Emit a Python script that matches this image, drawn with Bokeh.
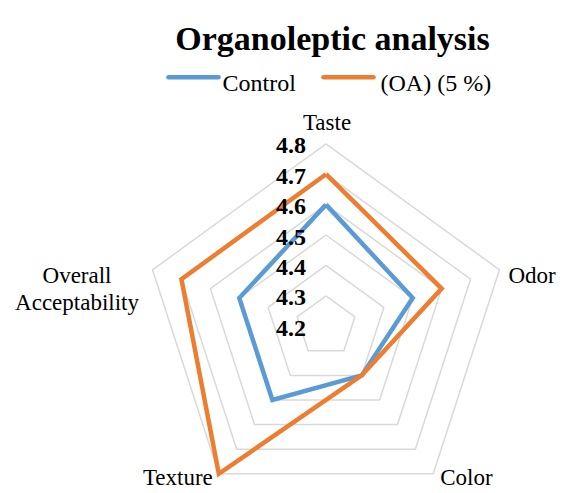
import math
from bokeh.plotting import figure
from bokeh.models import Range1d
from bokeh.core.properties import value
from bokeh.embed import file_html
from bokeh.resources import INLINE

# ---- data ----
categories = ["Taste", "Odor", "Color", "Texture", "Overall Acceptability"]
control = [4.6, 4.5, 4.4, 4.5, 4.5]
oa_5 = [4.7, 4.6, 4.4, 4.8, 4.7]
series_names = ["Control", "(OA) (5 %)"]
ticks = [4.2, 4.3, 4.4, 4.5, 4.6, 4.7, 4.8]
tick_labels = ["4.2", "4.3", "4.4", "4.5", "4.6", "4.7", "4.8"]
title = "Organoleptic analysis"

# ---- layout / style ----
W, H = 562, 493
CX, CY = 325.5, 325.7          # plot centre (screen px, y down)
RMIN, RMAX = 4.2, 4.8
RADIUS = 182.4                  # px for RMAX
FONT = value("Liberation Serif")
BLUE = "#5B9BD5"
ORANGE = "#ED7D31"
GRID = "#D9D9D9"

n = len(categories)
angles = [math.radians(90 - 360.0 * k / n) for k in range(n)]


def to_xy(val, ang):
    r = (val - RMIN) / (RMAX - RMIN) * RADIUS
    return CX + r * math.cos(ang), CY - r * math.sin(ang)


p = figure(width=W, height=H, x_range=Range1d(0, W), y_range=Range1d(H, 0),
           output_backend="svg", toolbar_location=None, min_border=0,
           x_axis_location=None, y_axis_location=None)
p.grid.visible = False
p.outline_line_color = None
p.background_fill_color = "white"

# grid pentagons (skip centre value)
gx, gy = [], []
for t in ticks[1:]:
    pts = [to_xy(t, a) for a in angles]
    pts.append(pts[0])
    gx.append([q[0] for q in pts])
    gy.append([q[1] for q in pts])
p.multi_line(gx, gy, line_color=GRID, line_width=1.5)

# series
for vals, col in [(control, BLUE), (oa_5, ORANGE)]:
    pts = [to_xy(v, a) for v, a in zip(vals, angles)]
    pts.append(pts[0])
    p.line([q[0] for q in pts], [q[1] for q in pts], line_color=col,
           line_width=4.5, line_join="miter")

# radial tick labels
tx, ty = [], []
for t in ticks:
    x, y = to_xy(t, angles[0])
    tx.append(x - 20)
    ty.append(y + 2)
p.text(tx, ty, text=tick_labels, text_font=FONT, text_font_size="24px",
       text_font_style="bold", text_align="right", text_baseline="middle",
       text_color="#000000")

# category labels: (dx, dy, align, baseline) offsets from outer vertex
label_style = [
    (1, -21.6, "center", "alphabetic"),
    (9, 5.6, "left", "alphabetic"),
    (7, 4.2, "left", "middle"),
    (-6, 4.2, "right", "middle"),
]
for k in range(4):
    vx, vy = to_xy(RMAX, angles[k])
    dx, dy, al, bl = label_style[k]
    p.text([vx + dx], [vy + dy], text=[categories[k]], text_font=FONT,
           text_font_size="23px", text_align=al, text_baseline=bl,
           text_color="#000000")
# two-line label for the last category
vx, vy = to_xy(RMAX, angles[4])
words = categories[4].split(" ")
p.text([vx - 75.5, vx - 75.5], [vy + 5.6, vy + 32.6], text=words, text_font=FONT,
       text_font_size="23px", text_align="center", text_baseline="alphabetic",
       text_color="#000000")

# title
p.text([332], [38], text=[title], text_font=FONT, text_font_size="34px",
       text_font_style="bold", text_align="center", text_baseline="alphabetic",
       text_color="#000000")

# legend
leg_y = 76.7
for (x0, x1, tx0), col, name in [((168, 218, 222), BLUE, series_names[0]),
                                 ((323, 373, 380), ORANGE, series_names[1])]:
    p.line([x0, x1], [leg_y, leg_y], line_color=col, line_width=4.5,
           line_cap="round")
    p.text([tx0], [82], text=[name], text_font=FONT, text_font_size="24px",
           text_align="left", text_baseline="alphabetic", text_color="#000000")

open("out.html", "w").write(file_html(p, INLINE))
